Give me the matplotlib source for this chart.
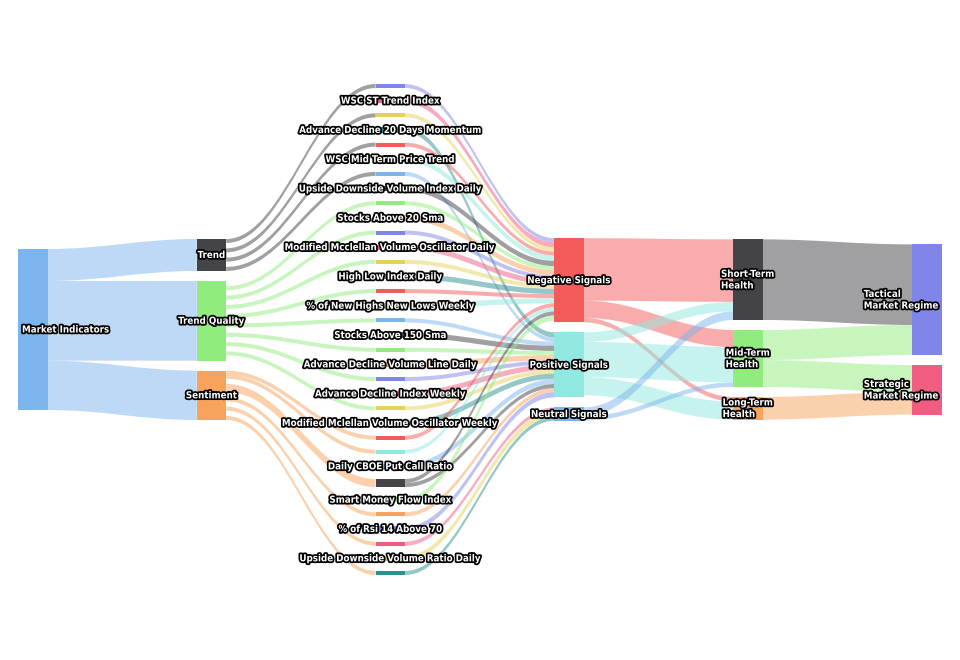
import matplotlib
matplotlib.use("Agg")
import matplotlib.pyplot as plt
from matplotlib.path import Path
from matplotlib.patches import PathPatch, Rectangle
import matplotlib.patheffects as pe

# ---------------- data (weights in % of the whole) ----------------
root = "Market Indicators"
groups = ["Trend", "Trend Quality", "Sentiment"]

# middle column, top to bottom. "" = indicator bar whose label is hidden,
# named entries = labelled indicator nodes (their inflow is not drawn)
mid_names = [
    "", "WSC ST Trend Index", "", "Advance Decline 20 Days Momentum",
    "", "WSC Mid Term Price Trend", "", "Upside Downside Volume Index Daily",
    "", "Stocks Above 20 Sma", "", "Modified Mcclellan Volume Oscillator Daily",
    "", "High Low Index Daily", "", "% of New Highs New Lows Weekly",
    "", "Stocks Above 150 Sma", "", "Advance Decline Volume Line Daily",
    "", "Advance Decline Index Weekly", "", "Modified Mclellan Volume Oscillator Weekly",
    "", "", "Daily CBOE Put Call Ratio", "", "Smart Money Flow Index",
    "", "% of Rsi 14 Above 70", "", "Upside Downside Volume Ratio Daily", "",
]
mid_group = [0] * 7 + [1] * 17 + [2] * 10
mid_value = [2.5 if n == "" else 3.25 for n in mid_names]
mid_value[27] = 5.0  # the Daily CBOE Put Call Ratio bar is double
# 0 = Negative, 1 = Positive, 2 = Neutral; a list splits the value evenly
mid_signal = [0, 0, 0, 1, 0, 0, 1, 0, 0, 0, 0, 0, 0, 0, 0, 0, 1, 1,
              1, 1, 1, 1, 1, 1, 0, 0, 1, [0, 1], 0, 1, 1, 2, 2, 2]

signals = ["Negative Signals", "Positive Signals", "Neutral Signals"]
horizons = ["Short-Term\nHealth", "Mid-Term\nHealth", "Long-Term\nHealth"]
regimes = ["Tactical\nMarket Regime", "Strategic\nMarket Regime"]

sig_src = [0, 0, 0, 1, 1, 1, 2, 2]
sig_dst = [0, 1, 2, 0, 1, 2, 0, 1]
sig_val = [38.6, 10.6, 2.8, 5.9, 21.8, 11.2, 5.3, 2.8]

hor_src = [0, 1, 1, 2]
hor_dst = [0, 0, 1, 1]
hor_val = [49.8, 18.6, 16.6, 14.0]

# ---------------- styles ----------------
palette = ["#7cb5ec", "#434348", "#90ed7d", "#f7a35c", "#8085e9",
           "#f15c80", "#e4d354", "#2b908f", "#f45b5b", "#91e8e1"]

# ---------------- build graph ----------------
nodes = {}
columns = [[] for _ in range(6)]


def add_node(nid, col, label, hidden_in=False):
    nodes[nid] = dict(col=col, color=palette[len(nodes) % len(palette)],
                      label=label, ins=[], outs=[], hidden_in=hidden_in)
    columns[col].append(nid)


add_node("root", 0, root)
for i, g in enumerate(groups):
    add_node(("g", i), 1, g)
for i, n in enumerate(mid_names):
    add_node(("m", i), 2, n, hidden_in=(n != ""))
for i, s in enumerate(signals):
    add_node(("s", i), 3, s)
for i, h in enumerate(horizons):
    add_node(("h", i), 4, h)
for i, r in enumerate(regimes):
    add_node(("r", i), 5, r)

links = []


def add_link(a, b, v):
    links.append(dict(src=a, dst=b, val=v))
    nodes[a]["outs"].append(len(links) - 1)
    nodes[b]["ins"].append(len(links) - 1)


for g in range(len(groups)):
    add_link("root", ("g", g),
             sum(v for v, gg in zip(mid_value, mid_group) if gg == g))
for i in range(len(mid_names)):
    add_link(("g", mid_group[i]), ("m", i), mid_value[i])
for i in range(len(mid_names)):
    targets = mid_signal[i] if isinstance(mid_signal[i], list) else [mid_signal[i]]
    for t in targets:
        add_link(("m", i), ("s", t), mid_value[i] / len(targets))
for a, b, v in zip(sig_src, sig_dst, sig_val):
    add_link(("s", a), ("h", b), v)
for a, b, v in zip(hor_src, hor_dst, hor_val):
    add_link(("h", a), ("r", b), v)

# ---------------- layout (highcharts-like) ----------------
W, H = 960, 660
plot_top, plot_bot = 84, 575
plot_left, plot_right = 18, 941.5
node_w, pad = 29.5, 10
col_step = (plot_right - plot_left - node_w) / 5

for nid, n in nodes.items():
    n["val"] = max(sum(links[k]["val"] for k in n["ins"]),
                   sum(links[k]["val"] for k in n["outs"]))

ph = plot_bot - plot_top
factor = min((ph - (len(c) - 1) * pad) / sum(nodes[i]["val"] for i in c)
             for c in columns)

for ci, c in enumerate(columns):
    tot = sum(nodes[i]["val"] for i in c) * factor + (len(c) - 1) * pad
    y = plot_top + (ph - tot) / 2
    for nid in c:
        n = nodes[nid]
        n["x"] = plot_left + ci * col_step
        n["y"] = y
        n["h"] = n["val"] * factor
        y += n["h"] + pad

# ---------------- draw ----------------
fig = plt.figure(figsize=(W / 100, H / 100), dpi=100)
ax = fig.add_axes([0, 0, 1, 1])
ax.set_xlim(0, W)
ax.set_ylim(H, 0)
ax.axis("off")

out_off = {k: 0.0 for k in nodes}
in_off = {k: 0.0 for k in nodes}
for lk in links:
    a, b = nodes[lk["src"]], nodes[lk["dst"]]
    h = lk["val"] * factor
    y0 = a["y"] + out_off[lk["src"]]
    y1 = b["y"] + in_off[lk["dst"]]
    out_off[lk["src"]] += h
    in_off[lk["dst"]] += h
    if b["hidden_in"]:
        continue
    x0 = a["x"] + node_w
    x1 = b["x"]
    cv = col_step * 0.33
    verts = [(x0, y0), (x0 + cv, y0), (x1 - cv, y1), (x1, y1),
             (x1, y1 + h),
             (x1 - cv, y1 + h), (x0 + cv, y0 + h), (x0, y0 + h),
             (x0, y0)]
    codes = [Path.MOVETO, Path.CURVE4, Path.CURVE4, Path.CURVE4,
             Path.LINETO, Path.CURVE4, Path.CURVE4, Path.CURVE4,
             Path.CLOSEPOLY]
    ax.add_patch(PathPatch(Path(verts, codes), facecolor=a["color"],
                           edgecolor="none", alpha=0.5, zorder=1))

outline = [pe.withStroke(linewidth=2.5, foreground="black")]
for nid, n in nodes.items():
    ax.add_patch(Rectangle((n["x"], n["y"]), node_w, n["h"],
                           facecolor=n["color"], edgecolor="none", zorder=2))
    if not n["label"]:
        continue
    cx = n["x"] + node_w / 2
    cy = n["y"] + n["h"] / 2
    ha = "center"
    if n["col"] == 0:
        cx, ha = n["x"] + 4, "left"
    elif n["col"] == 5:
        cx, ha = n["x"] + node_w - 3, "right"
    ax.text(cx, cy, n["label"], ha=ha, va="center", multialignment="left",
            color="white", fontsize=7.0, fontweight="bold",
            fontstretch="condensed",
            family="DejaVu Sans", path_effects=outline, zorder=3,
            linespacing=1.2)

fig.savefig("out.png", dpi=100, facecolor="white")
